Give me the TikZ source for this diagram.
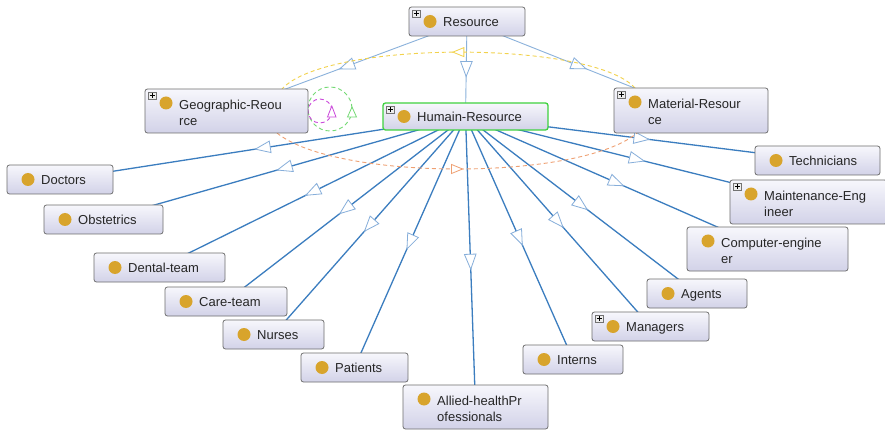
\documentclass[tikz,border=0pt]{standalone}
\usepackage{fontspec}
\setmainfont{Liberation Sans}
\usetikzlibrary{calc,decorations.markings,backgrounds}

\definecolor{edgeblue}{HTML}{3B7DBF}
\definecolor{supblue}{HTML}{8AB1DB}
\definecolor{tipblue}{HTML}{86AEDA}
\definecolor{boxtop}{HTML}{F7F7FC}
\definecolor{boxbot}{HTML}{D2D2E8}
\definecolor{boxline}{HTML}{6E6E6E}
\definecolor{dotgold}{HTML}{D8A42C}
\definecolor{selgreen}{HTML}{3FD23F}
\definecolor{propyellow}{HTML}{F2D24C}
\definecolor{proporange}{HTML}{EFA072}
\definecolor{propgreen}{HTML}{74DA74}
\definecolor{proppurple}{HTML}{CB48DB}

\tikzset{
  owlbox/.style={draw=boxline, line width=0.8pt, rounded corners=2.5pt,
    top color=boxtop, bottom color=boxbot, anchor=north west,
    inner sep=0pt, outer sep=0pt},
  selbox/.style={draw=selgreen, line width=1.3pt},
  owldot/.style={circle, fill=dotgold, inner sep=0pt, minimum size=13pt},
  owltext/.style={anchor=north west, inner sep=0pt, text=black!85,
    font=\fontsize{13}{16}\selectfont, align=left},
  plusbox/.style={draw=black!55, fill=black!7, minimum width=8pt,
    minimum height=7pt, inner sep=0pt, anchor=north west,
    path picture={
      \draw[black, line width=0.8pt]
        ($(path picture bounding box.center)+(-2.4,0)$) -- ++(4.8,0)
        ($(path picture bounding box.center)+(0,-2.4)$) -- ++(0,4.8);}},
  subtri/.style={postaction={decorate}, decoration={markings,
    mark=at position 0.5 with {\draw[draw=tipblue, fill=white, line width=0.8pt, solid]
      (-7.5,-5.8) -- (7.5,0) -- (-7.5,5.8) -- cycle;}}},
  subedge/.style={draw=edgeblue, line width=1.3pt, subtri},
  topedge/.style={draw=supblue, line width=0.9pt, subtri},
  proptri/.style={postaction={decorate}, decoration={markings,
    mark=at position 0.5 with {\draw[draw=#1, fill=white, line width=0.8pt, solid]
      (-5.5,-4.5) -- (5.5,0) -- (-5.5,4.5) -- cycle;}}},
  propedge/.style={draw=#1, line width=0.9pt, dash pattern=on 4pt off 3pt, proptri=#1},
  loopedge/.style={draw=#1, line width=0.9pt, dash pattern=on 4pt off 3pt},
  looptip/.style={draw=#1, fill=white, line width=0.8pt},
}

% class box: [extra style]{name}{x}{y}{w}{h}{label}{dot y}{label top}
\newcommand\owlnode[9][]{%
  \node[owlbox, minimum width=#5pt, minimum height=#6pt, #1] (#2) at (#3,#4) {};
  \node[owldot] (#2-dot) at ($(#2.north west)+(21,#8)$) {};
  \node[owltext] (#2-txt) at ($(#2.north west)+(34,#9)$) {\strut #7};
}
\newcommand\owlplus[1]{%
  \node[plusbox] (#1-plus) at ($(#1.north west)+(3,3)$) {};
}

\begin{document}
\begin{tikzpicture}[x=1pt, y=-1pt]
\useasboundingbox (0,0) rectangle (885,430);

% class boxes
\owlnode[selbox]{hr}{383}{103}{165}{27}{Humain-Resource}{13.5}{7}
\owlnode{res}{409}{7}{116}{29}{Resource}{14.5}{8}
\owlnode{geo}{145}{89}{163}{44}{Geographic-Reou\\rce}{14}{9.4}
\owlnode{mat}{614}{88}{154}{45}{Material-Resour\\ce}{14}{9.4}
\owlnode{doc}{7}{165}{106}{29}{Doctors}{14.5}{8}
\owlnode{obs}{44}{205}{119}{29}{Obstetrics}{14.5}{8}
\owlnode{den}{94}{253}{131}{29}{Dental-team}{14.5}{8}
\owlnode{care}{165}{287}{122}{29}{Care-team}{14.5}{8}
\owlnode{nur}{223}{320}{101}{29}{Nurses}{14.5}{8}
\owlnode{pat}{301}{353}{107}{29}{Patients}{14.5}{8}
\owlnode{all}{403}{385}{145}{44}{Allied-healthPr\\ofessionals}{14}{9.4}
\owlnode{int}{523}{345}{100}{29}{Interns}{14.5}{8}
\owlnode{man}{592}{312}{117}{29}{Managers}{14.5}{8}
\owlnode{age}{647}{279}{100}{29}{Agents}{14.5}{8}
\owlnode{comp}{687}{227}{161}{44}{Computer-engine\\er}{14}{9.4}
\owlnode{mnt}{730}{180}{157}{44}{Maintenance-Eng\\ineer}{14}{9.4}
\owlnode{tech}{755}{146}{125}{29}{Technicians}{14.5}{8}

\owlplus{res}
\owlplus{hr}
\owlplus{geo}
\owlplus{mat}
\owlplus{mnt}
\owlplus{man}

\begin{scope}[on background layer]
  \fill[white] (0,0) rectangle (885,430);

  % subclass links
  \foreach \c in {geo, hr, mat}
    \draw[topedge] (res.center) -- (\c.center);
  \foreach \c in {doc, obs, den, care, nur, pat, all, int, man, age, comp, mnt, tech}
    \draw[subedge] (hr.center) -- (\c.center);

  % object property arcs
  \draw[propedge=propyellow] ($(mat.north west)+(21,0)$)
    .. controls (592,40) and (326,40) .. ($(geo.north east)+(-26,0)$);
  \draw[propedge=proporange] ($(geo.south east)+(-31,0)$)
    .. controls (336,181) and (580,181) .. ($(mat.south west)+(23,0)$);

  % self loops on Geographic-Reource
  \coordinate (gloop) at ($(geo.east)+(22,-2)$);
  \coordinate (ploop) at ($(geo.east)+(12,0)$);
  \draw[loopedge=propgreen] (gloop) circle[radius=22];
  \draw[loopedge=proppurple] (ploop) circle[radius=12];
\end{scope}

\draw[looptip=propgreen] ($(gloop)+(17.5,8)$) -- ($(gloop)+(26.5,8)$) -- ($(gloop)+(22,-2)$) -- cycle;
\draw[looptip=proppurple] ($(ploop)+(7.5,6)$) -- ($(ploop)+(16,6)$) -- ($(ploop)+(11.8,-5)$) -- cycle;

\end{tikzpicture}
\end{document}
